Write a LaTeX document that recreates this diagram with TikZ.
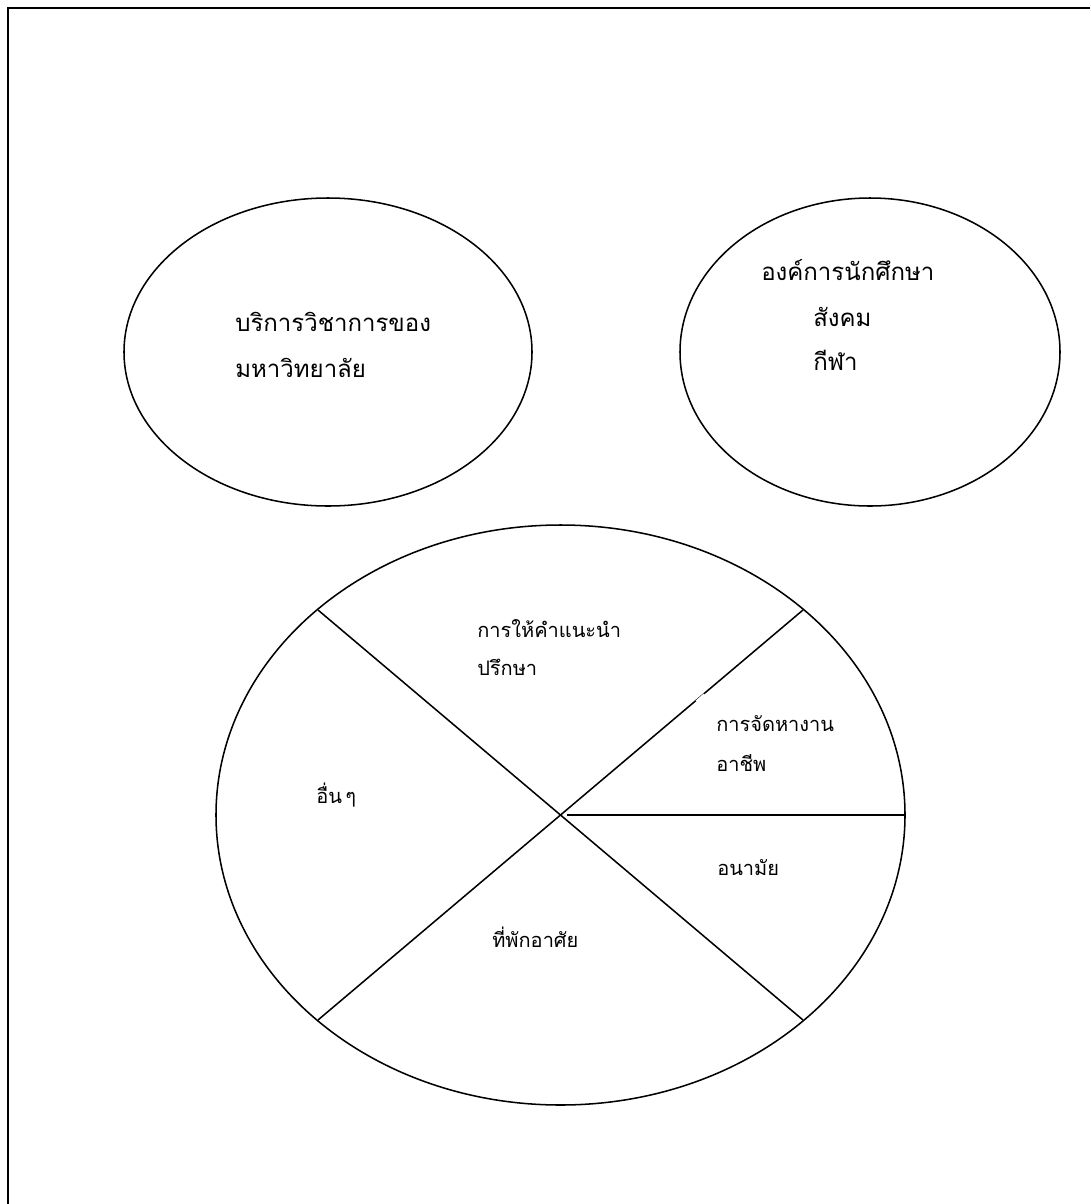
\documentclass[tikz,border=0pt]{standalone}
\usepackage{fontspec}
\newfontfamily\thaifont[Script=Thai]{Loma}
\usetikzlibrary{shapes.geometric}
\begin{document}
\begin{tikzpicture}[x=0.75pt,y=-0.75pt,
  frame/.style={line width=1.8pt},
  outline/.style={line width=1.15pt},
  bigtxt/.style={anchor=base west,inner sep=0pt,font=\thaifont\fontsize{18}{22}\selectfont},
  smalltxt/.style={anchor=base west,inner sep=0pt,font=\thaifont\fontsize{15}{18}\selectfont},
  gap/.style={white,line width=3pt}]
\useasboundingbox (0,0) rectangle (1090,1204);
% frame
\draw[frame] (1090,8) -- (8,8) -- (8,1204);
% top circles
\draw[outline] (328,352) ellipse [x radius=204, y radius=154];
\draw[outline] (870,352) ellipse [x radius=190, y radius=154];
% big ellipse
\draw[outline] (560.5,815) ellipse [x radius=344.5, y radius=290];
\coordinate (c) at (560.5,815);
\coordinate (nw) at (318,610);
\coordinate (ne) at (803,610);
\coordinate (sw) at (318,1020);
\coordinate (se) at (803,1020);
\coordinate (h0) at (567,815);
\coordinate (h1) at (905,815);
\draw[outline] (nw) -- (se);
\draw[outline] (sw) -- (ne);
\draw[outline] (h0) -- (h1);
% small gaps
\draw[gap] (697,702) -- (705,695);
\draw[gap] (727,240) -- (731,235);
% texts
\node[bigtxt] (l1) at (235,331) {บริการวิชาการของ};
\node[bigtxt] (l2) at (235,377) {มหาวิทยาลัย};
\node[bigtxt] (r1) at (761,280) {องค์การนักศึกษา};
\node[bigtxt] (r2) at (813,326) {สังคม};
\node[bigtxt] (r3) at (813,370) {กีฬา};
\node[smalltxt] (a1) at (477,637) {การให้คำแนะนำ};
\node[smalltxt] (a2) at (477,675) {ปรึกษา};
\node[smalltxt] (b1) at (716,731) {การจัดหางาน};
\node[smalltxt] (b2) at (716,771) {อาชีพ};
\node[smalltxt] (d1) at (316,803) {อื่น\,ๆ};
\node[smalltxt] (e1) at (717,875) {อนามัย};
\node[smalltxt] (f1) at (492,947) {ที่พักอาศัย};
\end{tikzpicture}
\end{document}
